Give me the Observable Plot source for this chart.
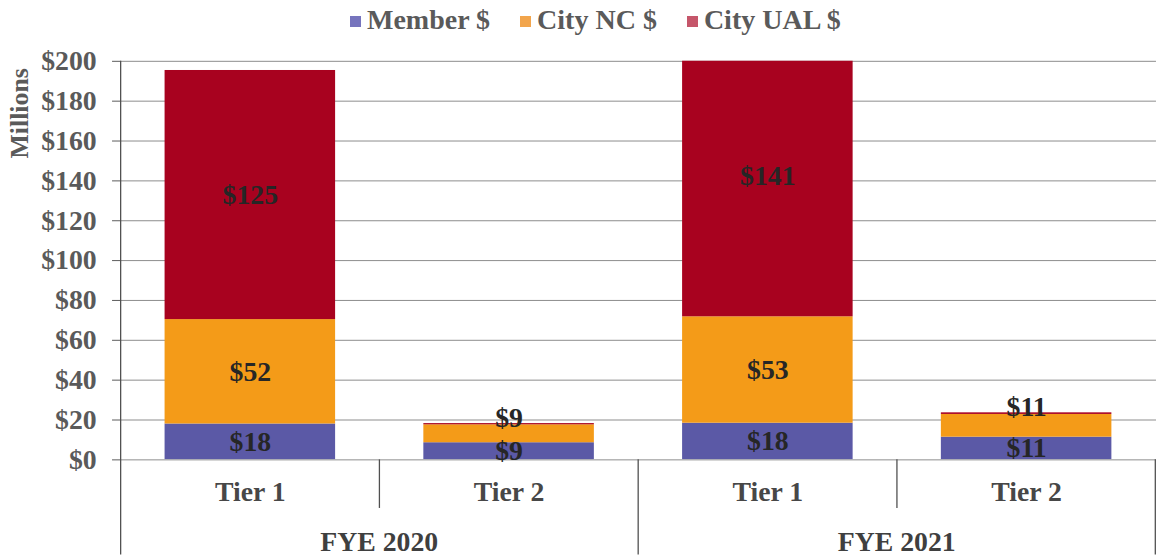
<!DOCTYPE html>
<html>
<head>
<meta charset="utf-8">
<script src="https://cdn.jsdelivr.net/npm/d3@7"></script>
<script src="https://cdn.jsdelivr.net/npm/@observablehq/plot@0.6"></script>
<style>
  html, body { margin: 0; padding: 0; background: #ffffff; overflow: hidden; width: 1156px; height: 559px; }
  #legend { height: 40px; display: flex; align-items: center; padding-left: 350px; box-sizing: border-box;
    font-family: "Liberation Serif", "Times New Roman", serif; font-weight: bold; font-size: 28px; color: #5a5a5a; }
  #legend .item { display: flex; align-items: center; margin-right: 30px; }
  #legend .sw { width: 11px; height: 11px; margin-right: 6px; margin-top: 3px; }
  #chart svg { display: block; }
</style>
</head>
<body>
<div id="legend"></div>
<div id="chart"></div>
<script>
// ---- data ----
const groups = ["FYE 2020", "FYE 2020", "FYE 2021", "FYE 2021"];
const tiers = ["Tier 1", "Tier 2", "Tier 1", "Tier 2"];
const seriesNames = ["Member $", "City NC $", "City UAL $"];
const memberVals = [18.0, 8.6, 18.4, 11.4];
const ncVals = [52.4, 9.0, 53.4, 11.4];
const ualVals = [125.0, 0.6, 141.2, 0.8];
const yTicks = [0, 20, 40, 60, 80, 100, 120, 140, 160, 180, 200];

const barColors = ["#5b59a6", "#f49b18", "#a8021f"];
const legendColors = ["#7674bd", "#f2a54c", "#c5566a"];

// ---- build tables ----
const keys = groups.map((g, i) => g + "|" + tiers[i]);
const valsBySeries = [memberVals, ncVals, ualVals];
const rows = [];
keys.forEach((k, i) => {
  seriesNames.forEach((s, j) => rows.push({key: k, series: s, value: valsBySeries[j][i]}));
});
const midLabels = [], topLabels = [];
keys.forEach((k, i) => {
  let cum = 0;
  seriesNames.forEach((s, j) => {
    const v = valsBySeries[j][i];
    const mid = cum + v / 2, top = cum + v;
    cum = top;
    const text = "$" + Math.round(v);
    if (tiers[i] === "Tier 2") {
      if (j === 0) midLabels.push({key: k, y: mid, text});
      else if (j === 1) topLabels.push({key: k, y: top, text});
    } else {
      midLabels.push({key: k, y: mid, text});
    }
  });
});

// ---- legend ----
const legend = document.getElementById("legend");
seriesNames.forEach((s, j) => {
  const it = document.createElement("div");
  it.className = "item";
  const sw = document.createElement("span");
  sw.className = "sw";
  sw.style.background = legendColors[j];
  const tx = document.createElement("span");
  tx.textContent = s;
  it.appendChild(sw); it.appendChild(tx);
  legend.appendChild(it);
});

// ---- chart ----
const font = "'Liberation Serif', 'Times New Roman', serif";
const plot = Plot.plot({
  width: 1166,
  height: 519,
  marginTop: 21,
  marginBottom: 96,
  marginLeft: 122,
  marginRight: 0,
  style: {fontFamily: font, fontWeight: "bold", fontSize: "28px", background: "transparent", overflow: "visible"},
  x: {domain: keys, paddingInner: 0.34, paddingOuter: 0.17, label: null},
  y: {domain: [0, 200], label: null},
  color: {domain: seriesNames, range: barColors},
  marks: [
    Plot.gridY({ticks: yTicks, stroke: "#8c8c8c", strokeOpacity: 1, strokeWidth: 1}),
    Plot.barY(rows, {x: "key", y: "value", fill: "series", order: seriesNames, clip: true}),
    Plot.text(midLabels, {x: "key", y: "y", text: "text", fill: "#262626", fontSize: 28, fontWeight: "bold"}),
    Plot.text(topLabels, {x: "key", y: "y", text: "text", fill: "#262626", fontSize: 28, fontWeight: "bold", dy: -7}),
    Plot.axisY({ticks: yTicks, tickFormat: d => "$" + d, tickSize: 9, tickPadding: 16, color: "#5a5a5a", label: null}),
    Plot.axisX({tickFormat: k => k.split("|")[1], tickSize: 0, tickPadding: 22, color: "#474747", label: null})
  ]
});
document.getElementById("chart").appendChild(plot);

// ---- category separators, y axis line, group labels ----
const xs = plot.scale("x");
const ys = plot.scale("y");
const bw = xs.bandwidth;
const step = bw / (1 - 0.34);
const half = (step - bw) / 2;
const svg = d3.select(plot);
const yTop = ys.apply(200), yBase = ys.apply(0);
const H = 519;
const g = svg.append("g").attr("stroke", "#505050").attr("stroke-width", 1.3);
keys.forEach((k, i) => {
  const left = xs.apply(k) - half;
  const isGroupStart = i === 0 || groups[i] !== groups[i - 1];
  g.append("line").attr("x1", left).attr("x2", left)
    .attr("y1", i === 0 ? yTop : yBase)
    .attr("y2", isGroupStart ? H : yBase + 49);
});
const lastRight = xs.apply(keys[keys.length - 1]) + bw + half;
g.append("line").attr("x1", lastRight).attr("x2", lastRight).attr("y1", yBase).attr("y2", H);

const uniqueGroups = [...new Set(groups)];
uniqueGroups.forEach(gr => {
  const ks = keys.filter((k, i) => groups[i] === gr);
  const l = xs.apply(ks[0]) - half;
  const r = xs.apply(ks[ks.length - 1]) + bw + half;
  svg.append("text").attr("x", (l + r) / 2).attr("y", yBase + 86)
    .attr("text-anchor", "middle").attr("dominant-baseline", "middle")
    .attr("fill", "#3f3f3f").attr("font-size", 28).attr("font-weight", "bold")
    .attr("font-family", font).text(gr);
});

svg.append("text")
  .attr("transform", `translate(22, ${yTop + 53}) rotate(-90)`)
  .attr("text-anchor", "middle").attr("dominant-baseline", "middle")
  .attr("fill", "#5a5a5a").attr("font-size", 26).attr("font-weight", "bold")
  .attr("font-family", font).text("Millions");
</script>
</body>
</html>
